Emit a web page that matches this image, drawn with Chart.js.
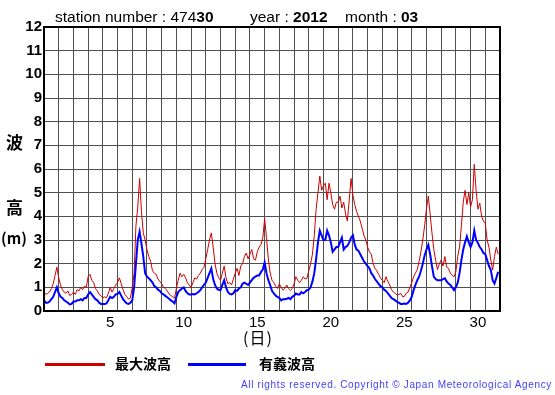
<!DOCTYPE html>
<html>
<head>
<meta charset="utf-8">
<script src="https://cdn.jsdelivr.net/npm/chart.js@4.4.1/dist/chart.umd.min.js"></script>
<style>
  body { margin: 0; background: #fff; }
  #wrap { position: relative; width: 555px; height: 395px; overflow: hidden; background: #fff; }
  #chart { position: absolute; left: 0; top: 0; }
  .txt { position: absolute; white-space: nowrap; line-height: 1; color: #000; }
  .jp { font-family: "Noto Sans CJK JP", sans-serif; font-weight: bold; }
  .en { font-family: "Liberation Sans", Arial, sans-serif; }
  .key { position: absolute; height: 3px; }
</style>
</head>
<body>
<div id="wrap">
  <canvas id="chart" width="555" height="395"></canvas>
  <div class="txt en" style="left:55px;top:9px;font-size:15.5px">station number : 474<b>30</b></div>
  <div class="txt en" style="left:250px;top:9px;font-size:15.5px">year : <b>2012</b></div>
  <div class="txt en" style="left:345px;top:9px;font-size:15.5px">month : <b>03</b></div>
  <div class="txt jp" style="left:6px;top:133px;font-size:17px">波</div>
  <div class="txt jp" style="left:6px;top:198px;font-size:17px">高</div>
  <div class="txt jp" style="left:1px;top:230px;font-size:15px">(m)</div>
  <div class="txt jp" style="left:243px;top:329px;font-size:16px;font-weight:normal;letter-spacing:1px">(日)</div>
  <div class="key" style="left:45px;top:363px;width:60px;background:#cc0000"></div>
  <div class="txt jp" style="left:115px;top:356px;font-size:14px">最大波高</div>
  <div class="key" style="left:188px;top:363px;width:58px;background:#0000ff"></div>
  <div class="txt jp" style="left:259px;top:356px;font-size:14px">有義波高</div>
  <div class="txt en" style="left:241px;top:380px;font-size:10px;color:#3f3fff;letter-spacing:0.65px">All rights reserved. Copyright © Japan Meteorological Agency</div>
</div>
<script>
// 3-hourly values, 8 per day, March 2012 (m)
const maxWave = [
  0.8, 0.7, 0.75, 0.8, 0.95, 1.15, 1.5, 1.85,   // 1
  1.4, 1.1, 0.9, 0.8, 0.75, 0.85, 0.65, 0.7,    // 2
  0.8, 0.7, 0.9, 0.85, 1.0, 0.9, 1.05, 1.0,     // 3
  1.45, 1.55, 1.3, 1.2, 0.95, 0.85, 0.7, 0.65,  // 4
  0.55, 0.6, 0.55, 0.75, 1.0, 0.8, 0.95, 1.1,   // 5
  1.2, 1.4, 1.15, 0.9, 0.7, 0.6, 0.5, 0.55,     // 6
  1.0, 1.6, 3.6, 4.4, 5.6, 4.2, 3.3, 3.0,       // 7
  2.6, 2.3, 2.1, 1.7, 1.6, 1.55, 1.35, 1.25,    // 8
  1.15, 1.0, 0.95, 0.85, 0.72, 0.65, 0.6, 0.55, // 9
  0.95, 1.3, 1.6, 1.45, 1.55, 1.4, 1.2, 1.1,    // 10
  1.0, 1.2, 1.4, 1.35, 1.5, 1.6, 1.75, 1.85,    // 11
  2.2, 2.6, 3.0, 3.3, 2.7, 2.0, 1.6, 1.4,       // 12
  1.3, 1.6, 1.9, 1.4, 1.15, 1.2, 1.1, 1.35,     // 13
  1.6, 1.8, 1.5, 1.9, 2.0, 2.3, 2.45, 2.2,      // 14
  2.4, 2.6, 2.2, 2.15, 2.5, 2.7, 2.8, 3.1,      // 15
  3.9, 3.1, 2.2, 1.6, 1.3, 1.2, 1.05, 0.95,     // 16
  1.15, 1.0, 0.88, 0.95, 1.1, 0.95, 0.88, 0.95, // 17
  1.15, 1.45, 1.3, 1.2, 1.3, 1.45, 1.35, 1.38,  // 18
  1.7, 2.0, 2.4, 3.2, 4.3, 5.0, 5.7, 5.1,       // 19
  5.3, 5.4, 4.7, 5.4, 5.0, 4.5, 4.3, 4.6,       // 20
  4.6, 4.85, 4.35, 4.6, 4.1, 3.8, 4.7, 5.6,     // 21
  4.9, 4.5, 4.2, 4.0, 3.8, 3.5, 3.2, 3.0,       // 22
  2.7, 2.5, 2.4, 2.0, 1.8, 1.7, 1.55, 1.4,      // 23
  1.3, 1.2, 1.45, 1.25, 1.1, 0.9, 0.8, 0.75,    // 24
  0.67, 0.7, 0.75, 0.6, 0.62, 0.75, 0.8, 1.0,   // 25
  1.2, 1.45, 1.6, 1.75, 2.1, 2.5, 3.0, 3.6,     // 26
  4.3, 4.85, 4.1, 3.3, 2.6, 2.15, 1.75, 2.0,    // 27
  2.15, 1.9, 2.3, 1.85, 1.8, 1.6, 1.5, 1.45,    // 28
  1.66, 2.3, 2.7, 3.6, 4.6, 5.1, 4.5, 5.0,      // 29
  4.4, 4.7, 6.2, 5.1, 4.3, 4.56, 4.0, 3.8,      // 30
  3.7, 3.0, 2.7, 2.15, 1.73, 2.3, 2.7, 2.4      // 31
];
const sigWave = [
  0.45, 0.35, 0.35, 0.4, 0.5, 0.6, 0.8, 1.0,
  0.75, 0.6, 0.55, 0.45, 0.4, 0.35, 0.28, 0.3,
  0.4, 0.4, 0.45, 0.45, 0.5, 0.45, 0.55, 0.55,
  0.7, 0.8, 0.7, 0.6, 0.5, 0.45, 0.35, 0.3,
  0.3, 0.3, 0.32, 0.45, 0.6, 0.55, 0.6, 0.7,
  0.72, 0.8, 0.65, 0.5, 0.4, 0.32, 0.3, 0.35,
  0.45, 1.0, 2.0, 3.0, 3.35, 2.85, 2.3, 1.6,
  1.45, 1.38, 1.3, 1.2, 1.05, 1.0, 0.9, 0.85,
  0.75, 0.7, 0.64, 0.58, 0.52, 0.45, 0.4, 0.32,
  0.6, 0.8, 0.88, 0.95, 1.0, 0.85, 0.75, 0.7,
  0.7, 0.72, 0.7, 0.75, 0.8, 0.88, 1.0, 1.1,
  1.2, 1.4, 1.6, 1.8, 1.35, 1.1, 0.95, 0.9,
  0.88, 1.1, 1.3, 1.0, 0.8, 0.72, 0.7, 0.75,
  0.88, 0.85, 0.95, 1.0, 1.15, 1.2, 1.15, 1.1,
  1.2, 1.3, 1.4, 1.45, 1.5, 1.5, 1.65, 1.75,
  2.05, 1.6, 1.3, 1.1, 0.85, 0.74, 0.65, 0.6,
  0.55, 0.45, 0.5, 0.5, 0.52, 0.55, 0.5, 0.6,
  0.65, 0.74, 0.7, 0.7, 0.8, 0.75, 0.8, 0.88,
  0.9, 1.0, 1.25, 1.6, 2.2, 2.9, 3.4, 3.2,
  3.0, 3.0, 3.4, 3.2, 2.9, 2.5, 2.6, 2.7,
  2.7, 2.9, 3.1, 2.6, 2.7, 2.75, 2.9, 3.1,
  3.2, 2.8, 2.6, 2.55, 2.4, 2.25, 2.1, 2.0,
  1.9, 1.8, 1.6, 1.5, 1.35, 1.25, 1.15, 1.05,
  1.0, 0.9, 0.85, 0.75, 0.65, 0.55, 0.5, 0.45,
  0.38, 0.35, 0.3, 0.3, 0.32, 0.3, 0.35, 0.45,
  0.6, 0.88, 1.1, 1.3, 1.45, 1.7, 2.0, 2.35,
  2.6, 2.8, 2.4, 1.9, 1.45, 1.35, 1.3, 1.3,
  1.3, 1.35, 1.38, 1.25, 1.16, 1.1, 1.0, 0.88,
  1.0, 1.2, 1.6, 2.15, 2.6, 2.9, 3.15, 2.9,
  2.7, 2.9, 3.4, 3.0, 2.87, 2.7, 2.6, 2.45,
  2.4, 2.15, 1.9, 1.73, 1.3, 1.16, 1.4, 1.66
];
const dayLabels = [5, 10, 15, 20, 25, 30];
const samplesPerDay = 8;

function toPoints(arr) {
  return arr.map((v, i) => ({ x: i / samplesPerDay, y: v }));
}

// black box round the plot area
const frame = {
  id: 'frame',
  afterDraw(chart) {
    const { ctx, chartArea: a } = chart;
    ctx.save();
    ctx.strokeStyle = '#000';
    ctx.lineWidth = 2;
    ctx.strokeRect(a.left, a.top, a.right - a.left, a.bottom - a.top);
    ctx.restore();
  }
};

new Chart(document.getElementById('chart'), {
  type: 'line',
  data: {
    datasets: [
      { label: '最大波高', data: toPoints(maxWave), borderColor: '#cc0000', borderWidth: 1, pointRadius: 0, order: 2 },
      { label: '有義波高', data: toPoints(sigWave), borderColor: '#0000ff', borderWidth: 2, pointRadius: 0, order: 1 }
    ]
  },
  options: {
    responsive: false,
    animation: false,
    layout: { padding: { left: 0, top: 27, right: 55, bottom: 64 } },
    plugins: { legend: { display: false }, tooltip: { enabled: false } },
    scales: {
      x: {
        type: 'linear', min: 0, max: 31,
        grid: { color: '#505050', drawTicks: false },
        border: { color: '#000', width: 2 },
        ticks: {
          stepSize: 1, autoSkip: false, maxRotation: 0, labelOffset: 7.3, padding: 3,
          color: '#000', font: { family: 'Liberation Sans', size: 15 },
          callback: (v) => dayLabels.includes(v + 1) ? String(v + 1) : ''
        },
        afterFit: (s) => { s.height = 20; }
      },
      y: {
        min: 0, max: 12,
        grid: { color: '#505050', drawTicks: false },
        border: { color: '#000', width: 2 },
        ticks: {
          stepSize: 1, padding: 2, color: '#000',
          font: { family: 'Liberation Sans', size: 15, weight: 'bold' }
        },
        afterFit: (s) => { s.width = 44; }
      }
    }
  },
  plugins: [frame]
});
</script>
</body>
</html>
